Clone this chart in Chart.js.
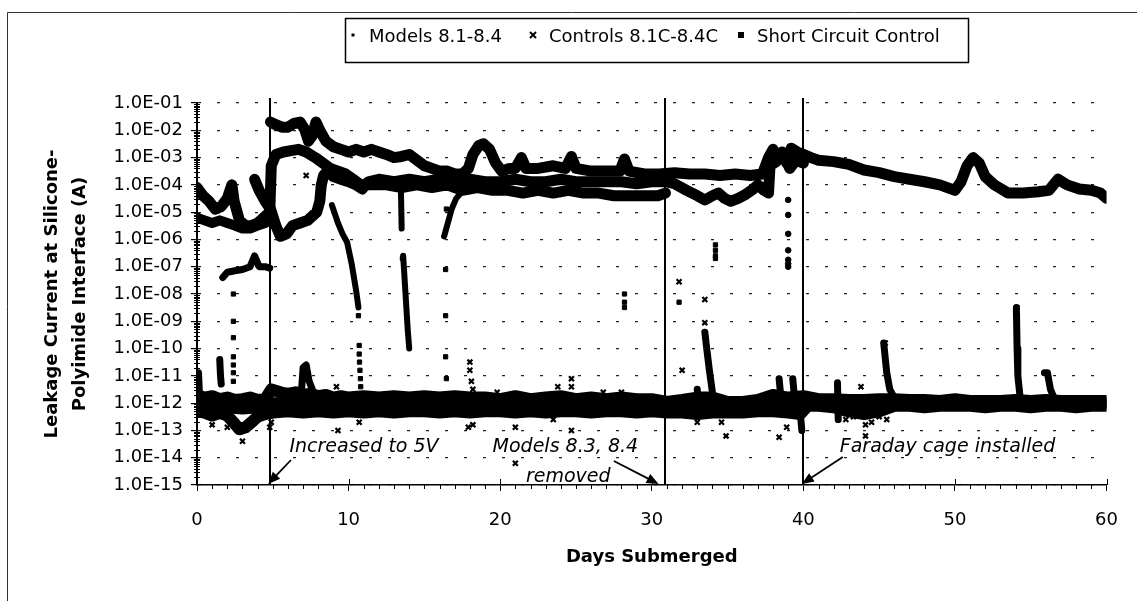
<!DOCTYPE html>
<html>
<head>
<meta charset="utf-8">
<title>Leakage current at the silicone-polyimide interface</title>
<script src="https://cdn.jsdelivr.net/npm/chart.js@4.4.1/dist/chart.umd.min.js"></script>
<style>
  html, body { margin: 0; padding: 0; background: #fff; }
  #wrap { width: 1137px; height: 601px; }
</style>
</head>
<body>
<div id="wrap"><canvas id="grafico" width="1137" height="601"></canvas></div>
<script>
// [day, current in A]
const modelsTop = [[4.85,2.0e-2],[5.2,1.6e-2],[5.6,1.3e-2],[6.0,1.3e-2],[6.4,1.8e-2],[6.8,2.0e-2],[7.1,1.1e-2],[7.35,4.0e-3],[7.6,6.3e-3],[7.85,2.0e-2],[8.1,1.0e-2],[8.5,4.0e-3],[9.0,2.5e-3],[9.5,2.0e-3],[10.0,1.6e-3],[10.5,2.0e-3],[11.0,1.6e-3],[11.5,2.0e-3],[12.0,1.6e-3],[12.5,1.3e-3],[13.0,1.0e-3],[13.5,1.1e-3],[14.0,1.3e-3],[14.5,8.0e-4],[15.0,5.0e-4],[15.5,4.0e-4],[16.0,3.2e-4],[16.5,3.2e-4],[17.0,2.5e-4],[17.5,2.5e-4],[17.9,4.0e-4],[18.2,1.3e-3],[18.6,2.8e-3],[18.9,3.2e-3],[19.3,2.0e-3],[19.7,6.3e-4],[20.1,3.2e-4],[20.6,4.0e-4],[21.0,4.0e-4],[21.4,1.0e-3],[21.7,4.0e-4],[22.5,4.0e-4],[23.5,5.0e-4],[24.3,4.0e-4],[24.7,1.1e-3],[25.0,4.0e-4],[26.0,3.2e-4],[27.0,3.2e-4],[27.9,3.2e-4],[28.2,8.9e-4],[28.5,3.2e-4],[29.5,2.5e-4],[30.5,2.5e-4],[31.5,2.8e-4],[32.5,2.5e-4],[33.5,2.5e-4],[34.5,2.2e-4],[35.5,2.5e-4],[36.5,2.2e-4],[37.3,2.5e-4],[37.7,1.0e-3],[38.0,2.0e-3],[38.3,1.0e-3],[38.6,1.6e-3],[38.9,6.3e-4],[39.2,2.2e-3],[39.6,1.6e-3],[40.0,1.3e-3],[40.5,1.0e-3],[41.0,8.0e-4],[42.0,7.1e-4],[43.0,5.6e-4],[44.0,3.5e-4],[45.0,2.8e-4],[46.0,2.0e-4],[47.0,1.6e-4],[48.0,1.3e-4],[49.0,1.0e-4],[50.0,6.3e-5],[50.4,1.3e-4],[50.8,5.0e-4],[51.2,1.0e-3],[51.6,6.3e-4],[52.0,2.0e-4],[52.6,1.0e-4],[53.5,5.0e-5],[54.5,5.0e-5],[55.5,5.6e-5],[56.2,6.3e-5],[56.8,1.6e-4],[57.4,1.0e-4],[58.2,7.1e-5],[59.0,6.3e-5],[59.6,5.0e-5],[60.0,3.2e-5]];
const modelsMid = [[3.8,1.6e-4],[4.1,6.3e-5],[4.5,2.5e-5],[4.85,1.3e-5],[5.2,3.2e-6],[5.5,1.3e-6],[5.9,1.6e-6],[6.3,3.2e-6],[6.8,4.0e-6],[7.3,5.0e-6],[7.9,1.0e-5],[8.1,2.5e-5],[8.2,1.0e-4],[8.35,2.2e-4],[8.6,3.2e-4],[9.0,2.0e-4],[9.5,1.6e-4],[10.0,1.3e-4],[10.5,1.0e-4],[10.9,7.1e-5],[11.3,1.3e-4],[12.0,1.6e-4],[13.0,1.3e-4],[14.0,1.6e-4],[15.0,1.3e-4],[16.0,1.6e-4],[17.0,1.3e-4],[18.0,1.6e-4],[19.0,1.3e-4],[20.0,1.3e-4],[21.0,1.6e-4],[22.0,1.3e-4],[23.0,1.3e-4],[24.0,1.6e-4],[25.0,1.3e-4],[26.0,1.3e-4],[27.0,1.3e-4],[28.0,1.3e-4],[29.0,1.1e-4],[30.0,1.3e-4],[30.9,1.3e-4],[31.5,1.1e-4],[32.3,6.3e-5],[33.0,4.0e-5],[33.5,2.8e-5],[34.0,4.0e-5],[34.4,5.0e-5],[34.8,3.2e-5],[35.2,2.5e-5],[35.7,3.2e-5],[36.2,4.5e-5],[36.7,7.1e-5],[37.0,1.0e-4],[37.4,6.3e-5],[37.7,5.0e-5],[37.8,5.0e-4],[38.2,7.1e-4],[38.7,1.3e-3],[39.1,4.0e-4],[39.5,7.9e-4],[40.0,6.3e-4]];
const modelsLow = [[0.0,8.0e-5],[0.4,4.0e-5],[0.8,2.5e-5],[1.2,1.3e-5],[1.6,1.6e-5],[2.0,3.2e-5],[2.3,1.0e-4],[2.45,2.5e-5],[2.8,5.0e-6],[3.2,3.2e-6],[3.6,3.2e-6],[4.0,4.0e-6],[4.4,6.3e-6],[4.8,1.0e-5],[4.9,5.0e-4],[5.2,1.3e-3],[5.7,1.6e-3],[6.2,1.8e-3],[6.7,2.0e-3],[7.2,1.6e-3],[7.8,1.0e-3],[8.3,6.3e-4],[8.8,4.0e-4],[9.3,3.2e-4],[9.8,2.5e-4],[10.3,1.6e-4],[10.8,1.0e-4],[11.5,1.0e-4],[12.5,1.0e-4],[13.5,8.0e-5],[14.5,1.0e-4],[15.5,8.0e-5],[16.5,1.0e-4],[17.5,6.3e-5],[18.5,8.0e-5],[19.5,6.3e-5],[20.5,6.3e-5],[21.5,5.0e-5],[22.5,6.3e-5],[23.5,5.0e-5],[24.5,6.3e-5],[25.5,5.0e-5],[26.5,5.0e-5],[27.5,4.0e-5],[28.5,4.0e-5],[29.5,4.0e-5],[30.4,4.0e-5],[30.9,5.0e-5]];
const modelsEarly = [[0.0,6.3e-6],[0.5,5.0e-6],[1.0,4.0e-6],[1.5,5.0e-6],[2.0,4.0e-6],[2.5,3.2e-6],[3.0,2.5e-6],[3.5,2.5e-6],[4.0,3.2e-6],[4.5,4.0e-6],[4.8,5.0e-6]];
const modelsFall1 = [[8.9,1.8e-5],[9.3,4.0e-6],[9.6,1.6e-6],[9.9,7.9e-7],[10.2,1.3e-7],[10.5,1.3e-8],[10.65,3.2e-9]];
const modelsFall2a = [[13.45,8.0e-5],[13.5,2.5e-6]];
const modelsFall2b = [[13.6,2.5e-7],[13.7,3.2e-8],[13.8,4.0e-9],[13.9,5.0e-10],[14.0,1.0e-10]];
const modelsRise = [[16.3,1.3e-6],[16.5,3.2e-6],[16.8,1.3e-5],[17.1,3.2e-5],[17.4,5.0e-5],[17.7,7.9e-5]];

const controlsBandHigh = [[0.0,2.0e-12],[0.5,1.6e-12],[1.0,1.8e-12],[1.5,1.4e-12],[2.0,1.6e-12],[2.5,1.3e-12],[3.0,1.4e-12],[3.5,1.6e-12],[4.0,1.3e-12],[4.5,1.4e-12],[4.9,3.2e-12],[5.5,2.5e-12],[6.0,2.2e-12],[6.5,2.5e-12],[7.0,2.0e-12],[7.5,2.2e-12],[8.0,1.8e-12],[8.5,2.0e-12],[9.0,1.6e-12],[9.5,1.8e-12],[10.0,1.6e-12],[11.0,1.8e-12],[12.0,1.6e-12],[13.0,1.8e-12],[14.0,1.6e-12],[15.0,1.8e-12],[16.0,1.6e-12],[17.0,1.8e-12],[18.0,1.6e-12],[19.0,1.6e-12],[20.0,1.4e-12],[21.0,1.8e-12],[22.0,1.4e-12],[23.0,1.6e-12],[24.0,1.8e-12],[25.0,1.4e-12],[26.0,1.6e-12],[27.0,1.4e-12],[28.0,1.6e-12],[29.0,1.4e-12],[30.0,1.4e-12],[31.0,1.1e-12],[32.0,1.3e-12],[33.0,1.6e-12],[34.0,1.6e-12],[35.0,1.1e-12],[36.0,1.1e-12],[37.0,1.3e-12],[38.0,2.0e-12],[39.0,1.6e-12],[40.0,1.8e-12],[41.0,1.4e-12],[42.0,1.4e-12],[43.0,1.3e-12],[44.0,1.3e-12],[45.0,1.4e-12],[46.0,1.4e-12],[47.0,1.3e-12],[48.0,1.3e-12],[49.0,1.2e-12],[50.0,1.4e-12],[51.0,1.2e-12],[52.0,1.2e-12],[53.0,1.2e-12],[54.0,1.3e-12],[55.0,1.2e-12],[56.0,1.3e-12],[57.0,1.2e-12],[58.0,1.2e-12],[59.0,1.2e-12],[60.0,1.2e-12]];
const controlsBandMid = [[0.0,9.0e-13],[1.0,8.0e-13],[2.0,7.1e-13],[3.0,6.3e-13],[4.0,7.1e-13],[5.0,1.0e-12],[6.0,1.0e-12],[8.0,9.0e-13],[10.0,9.0e-13],[12.0,9.0e-13],[14.0,9.0e-13],[16.0,9.0e-13],[18.0,9.0e-13],[20.0,9.0e-13],[22.0,9.0e-13],[24.0,9.0e-13],[26.0,9.0e-13],[28.0,9.0e-13],[30.0,8.0e-13],[32.0,7.1e-13],[34.0,8.0e-13],[36.0,7.1e-13],[38.0,9.0e-13],[40.0,1.0e-12],[42.0,1.0e-12],[44.0,8.0e-13],[46.0,1.0e-12],[48.0,1.0e-12],[50.0,1.0e-12],[52.0,1.0e-12],[54.0,1.0e-12],[56.0,1.0e-12],[58.0,1.0e-12],[60.0,1.0e-12]];
const controlsBandLow = [[0.0,5.0e-13],[0.5,4.5e-13],[1.0,3.5e-13],[1.5,4.5e-13],[2.0,3.5e-13],[2.4,2.0e-13],[2.8,1.1e-13],[3.2,1.3e-13],[3.6,2.0e-13],[4.0,3.2e-13],[4.5,4.0e-13],[5.0,4.5e-13],[6.0,5.0e-13],[7.0,4.5e-13],[8.0,5.0e-13],[9.0,4.5e-13],[10.0,5.0e-13],[11.0,4.5e-13],[12.0,5.0e-13],[13.0,4.5e-13],[14.0,5.0e-13],[15.0,5.0e-13],[16.0,4.5e-13],[17.0,5.0e-13],[18.0,4.5e-13],[19.0,5.0e-13],[20.0,5.0e-13],[21.0,4.5e-13],[22.0,5.0e-13],[23.0,4.5e-13],[24.0,5.0e-13],[25.0,5.0e-13],[26.0,4.5e-13],[27.0,5.0e-13],[28.0,5.0e-13],[29.0,4.5e-13],[30.0,5.0e-13],[31.0,4.5e-13],[32.0,4.5e-13],[33.0,4.0e-13],[34.0,4.5e-13],[35.0,4.5e-13],[36.0,4.5e-13],[37.0,5.0e-13],[38.0,5.0e-13],[39.0,4.5e-13],[39.8,4.0e-13],[40.3,8.0e-13],[41.0,8.0e-13],[42.0,7.1e-13],[43.0,5.0e-13],[44.0,4.0e-13],[45.0,5.0e-13],[46.0,8.0e-13],[47.0,8.0e-13],[48.0,7.1e-13],[49.0,8.0e-13],[50.0,8.0e-13],[51.0,8.0e-13],[52.0,7.1e-13],[53.0,8.0e-13],[54.0,8.0e-13],[55.0,7.1e-13],[56.0,8.0e-13],[57.0,8.0e-13],[58.0,7.1e-13],[59.0,8.0e-13],[60.0,8.0e-13]];
const controlsSpikes = [
  [[0.1,1.3e-11],[0.15,3.2e-12]],
  [[1.5,4.0e-11],[1.55,1.0e-11],[1.6,5.0e-12]],
  [[6.9,3.2e-12],[7.0,2.0e-11],[7.2,2.5e-11],[7.4,6.3e-12],[7.6,3.2e-12]],
  [[33.0,3.2e-12],[33.05,1.3e-12]],
  [[33.5,4.0e-10],[33.6,1.3e-10],[33.8,1.6e-11],[34.0,2.5e-12]],
  [[38.4,7.9e-12],[38.5,2.0e-12]],
  [[39.3,7.9e-12],[39.4,2.0e-12]],
  [[39.8,4.0e-13],[39.9,1.0e-13]],
  [[42.25,5.6e-12],[42.3,2.5e-13]],
  [[45.3,1.6e-10],[45.5,1.3e-11],[45.7,3.2e-12],[46.0,1.6e-12]],
  [[54.05,3.2e-9],[54.1,1.0e-10],[54.15,1.0e-11],[54.3,1.6e-12]],
  [[55.9,1.3e-11],[56.1,1.3e-11],[56.3,3.2e-12],[56.6,1.3e-12]]
];
const controlsPoints = [[7.2,2.2e-4],[3.0,4.0e-14],[9.2,4.0e-12],[9.3,1.0e-13],[10.7,2.0e-13],[18.0,3.2e-11],[18.0,1.6e-11],[18.1,6.3e-12],[18.2,3.2e-12],[17.9,1.3e-13],[18.2,1.6e-13],[19.8,2.5e-12],[21.0,1.3e-13],[21.0,6.3e-15],[23.8,4.0e-12],[24.7,7.9e-12],[24.7,4.0e-12],[24.7,1.0e-13],[23.5,2.5e-13],[26.8,2.5e-12],[28.0,2.5e-12],[31.8,2.8e-8],[32.0,1.6e-11],[33.5,6.3e-9],[33.5,8.9e-10],[33.0,2.0e-13],[34.6,2.0e-13],[34.9,6.3e-14],[38.4,5.6e-14],[38.9,1.3e-13],[43.8,4.0e-12],[44.1,1.6e-13],[44.1,6.3e-14],[42.8,2.5e-13],[43.3,3.2e-13],[44.5,2.0e-13],[45.0,3.2e-13],[45.5,2.5e-13],[45.4,1.6e-10],[54.1,1.6e-9],[54.1,1.0e-9],[54.1,3.2e-10],[2.0,1.3e-13],[1.0,1.6e-13],[4.8,1.3e-13],[4.9,2.0e-13]];

const shortEarly = [[1.7,4.0e-8],[2.0,6.3e-8],[2.5,7.1e-8],[3.0,7.9e-8],[3.5,1.0e-7],[3.8,2.5e-7],[4.1,1.0e-7],[4.5,1.0e-7],[4.8,8.9e-8]];
const shortDrops = [[2.4,1.0e-8],[2.4,1.0e-9],[2.4,2.5e-10],[2.4,5.0e-11],[2.4,2.5e-11],[2.4,1.3e-11],[2.4,6.3e-12],[10.65,1.6e-9],[10.7,1.3e-10],[10.7,6.3e-11],[10.72,3.2e-11],[10.75,1.6e-11],[10.78,7.9e-12],[10.8,4.0e-12],[13.55,2.0e-7],[16.4,7.9e-8],[16.4,1.6e-9],[16.4,5.0e-11],[16.45,7.9e-12],[16.45,1.3e-5],[28.2,1.0e-8],[28.2,5.0e-9],[28.2,3.2e-9],[31.8,5.0e-9],[33.5,4.0e-10],[33.5,2.8e-10],[34.2,6.3e-7],[34.2,4.0e-7],[34.2,2.5e-7],[34.2,2.0e-7],[54.1,3.2e-9],[54.1,1.6e-9],[54.1,6.3e-10]];
const shortDots = [[39.0,2.8e-5],[39.0,7.9e-6],[39.0,1.6e-6],[39.0,4.0e-7],[39.0,1.8e-7],[39.0,1.3e-7],[39.0,1.0e-7]];

const yDecades = [-15,-14,-13,-12,-11,-10,-9,-8,-7,-6,-5,-4,-3,-2,-1];
const events = [4.8, 30.9, 40.0];

const notes = [
  { text: 'Increased to 5V', day: 6.1, up: 33 },
  { text: 'Models 8.3, 8.4', day: 19.5, up: 33 },
  { text: 'removed', day: 21.7, up: 3 },
  { text: 'Faraday cage installed', day: 42.4, up: 33 }
];
// [day, px above the x axis]
const arrows = [
  { from: [6.2, 25], to: [4.7, 1] },
  { from: [27.5, 24], to: [30.45, 1] },
  { from: [42.6, 28], to: [39.9, 1] }
];

const FONT = '"DejaVu Sans", "Liberation Sans", sans-serif';

function puntos(arr) {
  return arr.map(p => ({ x: p[0], y: p[1] }));
}

function tramos(listas) {
  const out = [];
  listas.forEach((l, i) => {
    if (i) out.push({ x: l[0][0], y: null });
    out.push(...puntos(l));
  });
  return out;
}

// dense runs of markers are drawn as thick line datasets
function traza(label, data, ancho, leyenda) {
  return {
    type: 'line',
    label: label, data: data, spanGaps: false, tension: 0, fill: false,
    borderColor: '#000', backgroundColor: '#000', borderWidth: ancho,
    borderJoinStyle: 'round', borderCapStyle: 'round',
    pointRadius: 0, pointHoverRadius: 0, leyenda: leyenda || null
  };
}

function marcas(label, data, estilo, radio) {
  return {
    type: 'scatter',
    label: label, data: data, showLine: false,
    pointStyle: estilo, pointRadius: radio, pointHoverRadius: radio,
    pointBorderWidth: estilo === 'crossRot' ? 2.2 : 1,
    borderColor: '#000', backgroundColor: '#000', leyenda: null
  };
}

function flecha(ctx, x1, y1, x2, y2) {
  const ang = Math.atan2(y2 - y1, x2 - x1);
  ctx.beginPath();
  ctx.moveTo(x1, y1);
  ctx.lineTo(x2 - 9 * Math.cos(ang), y2 - 9 * Math.sin(ang));
  ctx.stroke();
  ctx.beginPath();
  ctx.moveTo(x2, y2);
  ctx.lineTo(x2 - 12 * Math.cos(ang) + 5 * Math.sin(ang), y2 - 12 * Math.sin(ang) - 5 * Math.cos(ang));
  ctx.lineTo(x2 - 12 * Math.cos(ang) - 5 * Math.sin(ang), y2 - 12 * Math.sin(ang) + 5 * Math.cos(ang));
  ctx.closePath();
  ctx.fill();
}

function marcaLeyenda(ctx, tipo, x, y) {
  if (tipo === 'dot') {
    ctx.fillRect(x - 1.5, y - 1.5, 3, 3);
  } else if (tipo === 'cross') {
    ctx.lineWidth = 2;
    ctx.beginPath();
    ctx.moveTo(x - 3, y - 3); ctx.lineTo(x + 3, y + 3);
    ctx.moveTo(x + 3, y - 3); ctx.lineTo(x - 3, y + 3);
    ctx.stroke();
  } else {
    ctx.fillRect(x - 3, y - 3, 6, 6);
  }
}

const decor = {
  id: 'decor',
  beforeDatasetsDraw(chart) {
    const { ctx, chartArea: a, scales: { x } } = chart;
    ctx.save();
    ctx.strokeStyle = '#000';
    ctx.lineWidth = 2;
    events.forEach(d => {
      const px = Math.round(x.getPixelForValue(d));
      ctx.beginPath();
      ctx.moveTo(px, a.top - 5);
      ctx.lineTo(px, a.bottom);
      ctx.stroke();
    });
    ctx.restore();
  },
  afterDraw(chart) {
    const { ctx, chartArea: a, scales: { x, y } } = chart;
    ctx.save();
    ctx.strokeStyle = '#000';
    ctx.fillStyle = '#000';
    ctx.lineWidth = 1;

    // minor ticks on the log axis
    for (let e = -15; e < -1; e++) {
      for (let m = 2; m <= 9; m++) {
        const py = Math.round(y.getPixelForValue(m * Math.pow(10, e))) + 0.5;
        ctx.beginPath();
        ctx.moveTo(a.left - 3, py);
        ctx.lineTo(a.left + 3, py);
        ctx.stroke();
      }
    }
    // day ticks, majors cross the axis
    for (let d = 0; d <= 60; d++) {
      const px = Math.round(x.getPixelForValue(d)) + 0.5;
      ctx.beginPath();
      if (d % 10 === 0) {
        ctx.moveTo(px, a.bottom - 6);
        ctx.lineTo(px, a.bottom);
      } else {
        ctx.moveTo(px, a.bottom);
        ctx.lineTo(px, a.bottom + 4);
      }
      ctx.stroke();
    }

    // outer frame (top and left edges of the scan)
    ctx.strokeStyle = '#333';
    ctx.beginPath();
    ctx.moveTo(7.5, 601);
    ctx.lineTo(7.5, 12.5);
    ctx.lineTo(1137, 12.5);
    ctx.stroke();

    // legend
    ctx.strokeStyle = '#000';
    ctx.lineWidth = 1.5;
    ctx.strokeRect(345.5, 18.5, 623, 44);
    const slots = [353, 533, 741];
    ctx.font = '18px ' + FONT;
    ctx.textBaseline = 'alphabetic';
    ctx.textAlign = 'left';
    chart.data.datasets.filter(ds => ds.leyenda).forEach((ds, i) => {
      marcaLeyenda(ctx, ds.leyenda, slots[i], 35);
      ctx.fillText(ds.label, slots[i] + 16, 42);
    });

    // notes and arrows
    ctx.font = 'italic 19px ' + FONT;
    notes.forEach(n => {
      ctx.fillText(n.text, x.getPixelForValue(n.day), a.bottom - n.up);
    });
    ctx.lineWidth = 1.8;
    arrows.forEach(f => {
      flecha(ctx, x.getPixelForValue(f.from[0]), a.bottom - f.from[1],
        x.getPixelForValue(f.to[0]), a.bottom - f.to[1]);
    });
    ctx.restore();
  }
};

const ctx = document.getElementById('grafico').getContext('2d');
new Chart(ctx, {
  type: 'scatter',
  data: {
    datasets: [
      traza('Models 8.1-8.4', puntos(modelsTop), 11, 'dot'),
      traza('Models 8.1-8.4 (b)', puntos(modelsMid), 11),
      traza('Models 8.1-8.4 (c)', puntos(modelsLow), 11),
      traza('Models 8.1-8.4 (d)', puntos(modelsEarly), 10),
      traza('Models 8.1-8.4 (e)', tramos([modelsFall1, modelsFall2a, modelsFall2b, modelsRise]), 6),
      traza('Controls 8.1C-8.4C', puntos(controlsBandHigh), 12, 'cross'),
      traza('Controls 8.1C-8.4C (b)', puntos(controlsBandMid), 12),
      traza('Controls 8.1C-8.4C (c)', puntos(controlsBandLow), 12),
      traza('Controls 8.1C-8.4C (d)', tramos(controlsSpikes), 7),
      marcas('Controls 8.1C-8.4C (e)', puntos(controlsPoints), 'crossRot', 3.5),
      traza('Short Circuit Control', puntos(shortEarly), 7, 'square'),
      marcas('Short Circuit Control (b)', puntos(shortDrops), 'rect', 3),
      marcas('Short Circuit Control (c)', puntos(shortDots), 'circle', 2.8)
    ]
  },
  options: {
    responsive: false,
    animation: false,
    events: [],
    devicePixelRatio: 1,
    layout: { padding: { top: 103, left: 10, right: 28, bottom: 0 } },
    plugins: {
      legend: { display: false },
      tooltip: { enabled: false }
    },
    scales: {
      x: {
        type: 'linear',
        min: 0,
        max: 60,
        afterFit: scale => { scale.height = 116; },
        ticks: { stepSize: 10, color: '#000', padding: 19, font: { size: 18, family: FONT } },
        grid: { drawOnChartArea: false, drawTicks: true, tickLength: 6, tickColor: '#000', tickWidth: 1 },
        border: { color: '#000', width: 1.5 },
        title: {
          display: true,
          text: 'Days Submerged',
          color: '#000',
          font: { size: 18, weight: 'bold', family: FONT },
          padding: { top: 0, bottom: 33 }
        }
      },
      y: {
        type: 'logarithmic',
        min: 1e-15,
        max: 1e-1,
        afterFit: scale => { scale.width = 187; },
        afterBuildTicks: scale => {
          scale.ticks = yDecades.map(e => ({ value: Math.pow(10, e) }));
        },
        ticks: {
          autoSkip: false,
          color: '#000',
          padding: 8,
          font: { size: 18, family: FONT },
          callback: v => {
            const e = Math.round(Math.log10(v));
            return '1.0E' + (e < 0 ? '-' : '+') + String(Math.abs(e)).padStart(2, '0');
          }
        },
        grid: { color: '#222', lineWidth: 1.2, tickLength: 6, tickColor: '#000', tickWidth: 1.2, tickBorderDash: [] },
        border: { color: '#000', width: 2, dash: [3, 16] },
        title: {
          display: true,
          text: ['Leakage Current at Silicone-', 'Polyimide Interface (A)'],
          color: '#000',
          font: { size: 18, weight: 'bold', family: FONT, lineHeight: 1.5556 },
          padding: { top: 28, bottom: 0 }
        }
      }
    }
  },
  plugins: [decor]
});
</script>
</body>
</html>
